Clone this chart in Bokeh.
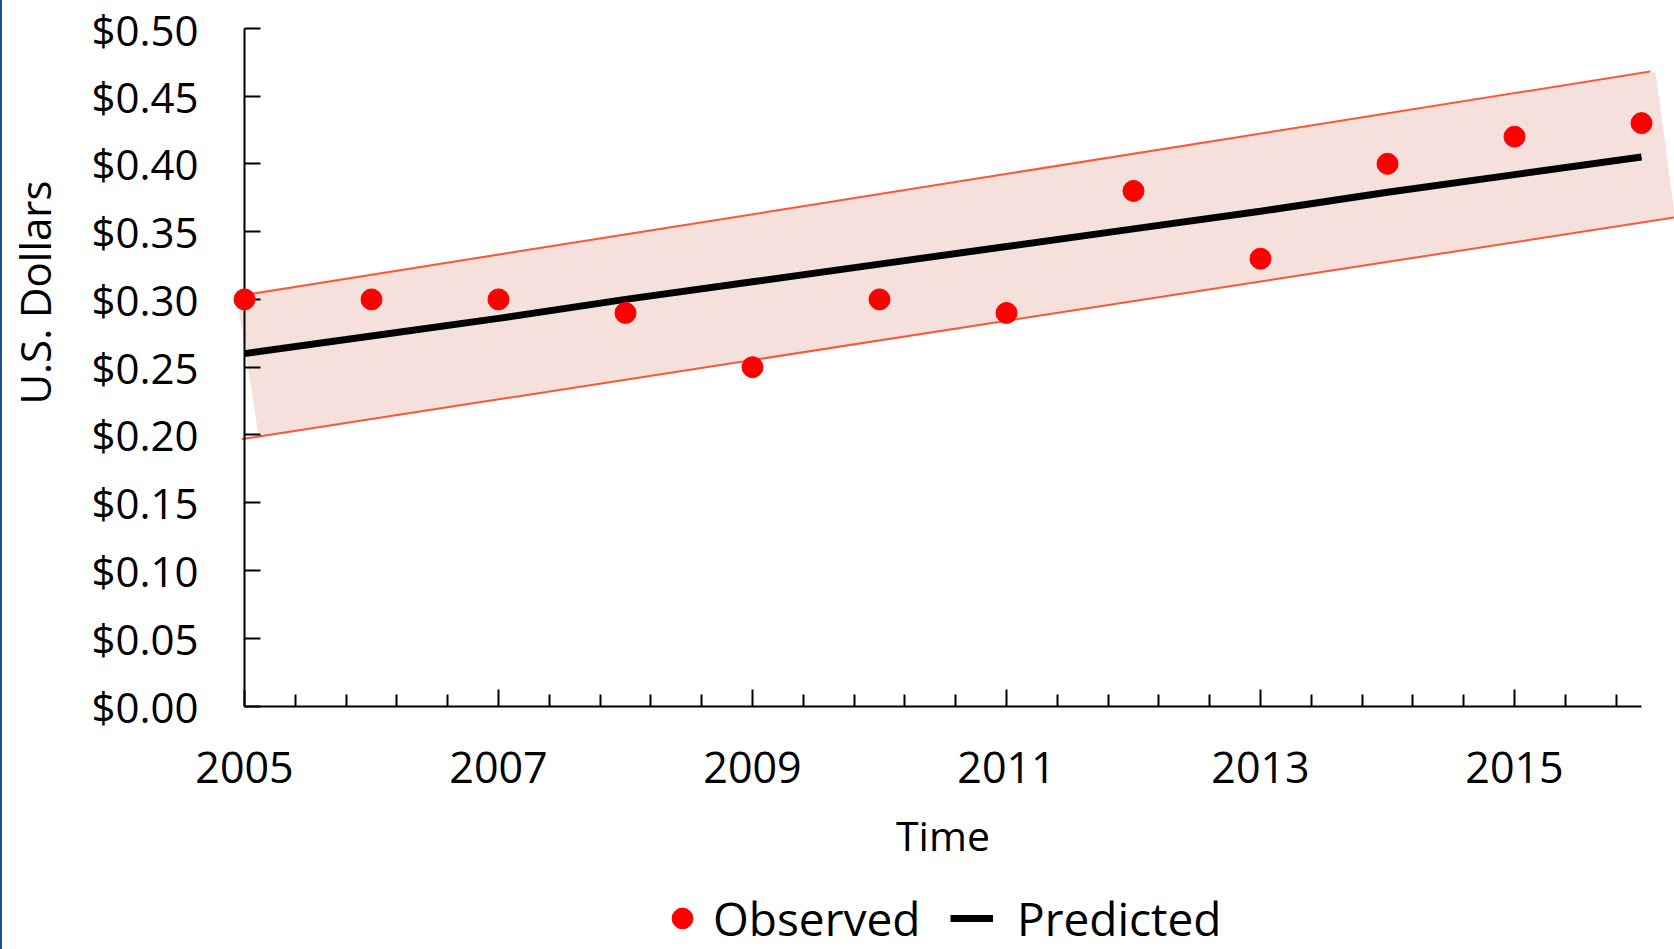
import math
from bokeh.plotting import figure
from bokeh.models import (FixedTicker, NumeralTickFormatter, Legend, LegendItem,
                          Label, Range1d, Div, LinearAxis)
from bokeh.layouts import row
from bokeh.embed import file_html
from bokeh.resources import INLINE

# ---- data ----
years = [2005, 2006, 2007, 2008, 2009, 2010, 2011, 2012, 2013, 2014, 2015, 2016]
observed = [0.30, 0.30, 0.30, 0.29, 0.25, 0.30, 0.29, 0.38, 0.33, 0.40, 0.42, 0.43]
predicted = [0.260, 0.273, 0.286, 0.300, 0.313, 0.326, 0.339, 0.352, 0.365, 0.379, 0.392, 0.405]

# prediction band: bounding lines and shaded area corners
band_upper_x = [2004.98, 2016.07]
band_upper_y = [0.303, 0.468]
band_lower_x = [2004.98, 2016.30]
band_lower_y = [0.197, 0.361]
band_fill_x = [2004.937, 2016.110, 2016.264, 2005.113]
band_fill_y = [0.3035, 0.4676, 0.3611, 0.1982]

x_major_ticks = [2005, 2007, 2009, 2011, 2013, 2015]
x_minor_ticks = [2005.4, 2005.8, 2006.2, 2006.6, 2007.4, 2007.8, 2008.2, 2008.6,
                 2009.4, 2009.8, 2010.2, 2010.6, 2011.4, 2011.8, 2012.2, 2012.6,
                 2013.4, 2013.8, 2014.2, 2014.6, 2015.4, 2015.8]
y_ticks = [0.00, 0.05, 0.10, 0.15, 0.20, 0.25, 0.30, 0.35, 0.40, 0.45, 0.50]

FONT = "Open Sans"
W, H = 1672, 949

# the plotting frame fills the whole canvas; axes sit at fixed data locations
p = figure(width=W, height=H,
           x_range=Range1d(2003.0945, 2016.2598), y_range=Range1d(-0.17943, 0.52043),
           x_axis_location=None, y_axis_location=None,
           output_backend="svg", toolbar_location=None,
           min_border_left=0, min_border_right=0,
           min_border_top=0, min_border_bottom=0)
p.outline_line_color = None
p.grid.visible = False
p.background_fill_color = "white"
p.border_fill_color = "white"

# band
p.patch(band_fill_x, band_fill_y, fill_color="#F5E0DC", line_color=None)
p.line(band_upper_x, band_upper_y, line_color="#FF5533", line_width=2)
p.line(band_lower_x, band_lower_y, line_color="#FF5533", line_width=2)

pred_r = p.line(years, predicted, line_color="black", line_width=7)
obs_r = p.scatter(years, observed, size=21, fill_color="#FF0000",
                  line_color="#FF0000", level="overlay")

# x axis
xa = LinearAxis(fixed_location=0)
xa.ticker = FixedTicker(ticks=x_major_ticks, minor_ticks=x_minor_ticks)
xa.bounds = (2005, 2016)
xa.axis_line_width = 2
xa.axis_line_color = "black"
xa.major_tick_in = 17
xa.major_tick_out = 0
xa.minor_tick_in = 12
xa.minor_tick_out = 0
xa.major_tick_line_width = 2
xa.minor_tick_line_width = 2
xa.major_tick_line_color = "black"
xa.minor_tick_line_color = "black"
xa.major_label_text_font = FONT
xa.major_label_text_font_size = "43px"
xa.major_label_text_color = "black"
xa.major_label_standoff = 46
xa.axis_label = "Time"
xa.axis_label_text_font = FONT
xa.axis_label_text_font_size = "41px"
xa.axis_label_text_font_style = "normal"
xa.axis_label_text_color = "black"
xa.axis_label_standoff = 20
p.add_layout(xa, "below")

# y axis
ya = LinearAxis(fixed_location=2005)
ya.ticker = FixedTicker(ticks=y_ticks, minor_ticks=[])
ya.formatter = NumeralTickFormatter(format="$0.00")
ya.bounds = (0, 0.5)
ya.axis_line_width = 2
ya.axis_line_color = "black"
ya.major_tick_in = 16
ya.major_tick_out = 0
ya.minor_tick_in = 0
ya.minor_tick_out = 0
ya.major_tick_line_width = 2
ya.major_tick_line_color = "black"
ya.major_label_text_font = FONT
ya.major_label_text_font_size = "42px"
ya.major_label_text_color = "black"
ya.major_label_standoff = 46
p.add_layout(ya, "left")

ylab = Label(x=32, y=657, x_units="screen", y_units="screen",
             text="U.S. Dollars", angle=math.pi / 2,
             text_align="center", text_baseline="middle",
             text_font=FONT, text_font_size="42px", text_color="black")
p.add_layout(ylab)

leg_common = dict(orientation="horizontal", padding=0, margin=0,
                  border_line_color=None, background_fill_alpha=0,
                  label_text_font=FONT, label_text_font_size="46px",
                  label_text_color="black")
leg1 = Legend(items=[LegendItem(label="Observed", renderers=[obs_r])],
              location=(654, 0), glyph_width=52, glyph_height=52,
              label_standoff=5, **leg_common)
leg2 = Legend(items=[LegendItem(label="Predicted", renderers=[pred_r])],
              location=(948, 0), glyph_width=43, glyph_height=52,
              label_standoff=24, **leg_common)
p.add_layout(leg1)
p.add_layout(leg2)

edge = Div(text="", width=2, height=H, margin=0,
           styles={"background-color": "#1F4E96"})

layout = row(edge, p, spacing=0)
open("out.html", "w").write(file_html(layout, INLINE))
